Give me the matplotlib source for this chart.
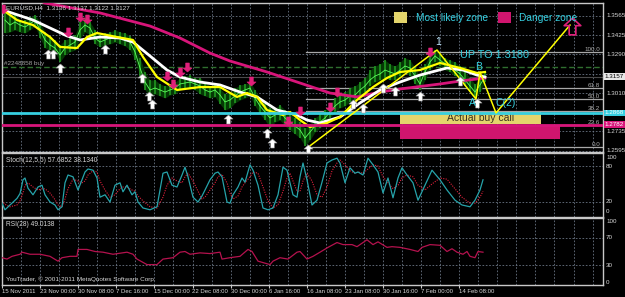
import matplotlib
matplotlib.use('Agg')
import matplotlib.pyplot as plt
import numpy as np
from matplotlib.path import Path
from matplotlib.patches import Rectangle

plt.rcParams['font.family'] = ['Liberation Sans', 'DejaVu Sans']

# ---- EURUSD H4 price bars (chart column, price) ----
bar_x = list(range(5, 486, 5))
close = [1.3535, 1.3499, 1.3521, 1.3499, 1.3485, 1.3507, 1.3535, 1.3464, 1.3392, 1.3356,
         1.3334, 1.3284, 1.3334, 1.3356, 1.3377, 1.3464, 1.3499, 1.3478, 1.3406, 1.3377,
         1.3392, 1.3406, 1.3421, 1.3406, 1.3392, 1.3377, 1.3306, 1.3191, 1.3090, 1.3033,
         1.3047, 1.3033, 1.3018, 1.3033, 1.3047, 1.3076, 1.3083, 1.3090, 1.3076, 1.3062,
         1.3033, 1.3018, 1.3033, 1.2997, 1.2947, 1.2961, 1.2990, 1.3018, 1.3033, 1.3047,
         1.2975, 1.2918, 1.2875, 1.2832, 1.2853, 1.2875, 1.2832, 1.2803, 1.2774, 1.2746,
         1.2688, 1.2731, 1.2774, 1.2803, 1.2832, 1.2875, 1.2918, 1.2947, 1.2961, 1.2990,
         1.2997, 1.3033, 1.3062, 1.3105, 1.3133, 1.3148, 1.3176, 1.3162, 1.3148, 1.3176,
         1.3205, 1.3191, 1.3133, 1.3076, 1.3162, 1.3234, 1.3277, 1.3248, 1.3219, 1.3205,
         1.3176, 1.3148, 1.3105, 1.3062, 1.3018, 1.3069, 1.3126]
high = [1.3593, 1.3571, 1.3578, 1.3535, 1.3535, 1.3557, 1.3571, 1.3521, 1.3449, 1.3406,
        1.3392, 1.3356, 1.3392, 1.3406, 1.3428, 1.3521, 1.3550, 1.3521, 1.3464, 1.3428,
        1.3442, 1.3449, 1.3464, 1.3449, 1.3442, 1.3421, 1.3363, 1.3263, 1.3162, 1.3105,
        1.3105, 1.3076, 1.3062, 1.3076, 1.3090, 1.3119, 1.3133, 1.3140, 1.3119, 1.3119,
        1.3090, 1.3062, 1.3076, 1.3047, 1.3004, 1.3018, 1.3047, 1.3069, 1.3076, 1.3090,
        1.3033, 1.2975, 1.2932, 1.2904, 1.2904, 1.2925, 1.2889, 1.2860, 1.2832, 1.2803,
        1.2760, 1.2789, 1.2832, 1.2860, 1.2889, 1.2932, 1.2975, 1.3004, 1.3018, 1.3047,
        1.3062, 1.3090, 1.3119, 1.3176, 1.3205, 1.3219, 1.3248, 1.3219, 1.3205, 1.3234,
        1.3263, 1.3248, 1.3191, 1.3133, 1.3219, 1.3291, 1.3320, 1.3291, 1.3263, 1.3248,
        1.3234, 1.3205, 1.3162, 1.3119, 1.3076, 1.3133, 1.3162]
low = [1.3442, 1.3449, 1.3464, 1.3449, 1.3442, 1.3464, 1.3492, 1.3406, 1.3334, 1.3320,
       1.3306, 1.3234, 1.3284, 1.3306, 1.3320, 1.3406, 1.3449, 1.3428, 1.3363, 1.3342,
       1.3356, 1.3363, 1.3377, 1.3363, 1.3349, 1.3320, 1.3248, 1.3133, 1.3033, 1.2983,
       1.3004, 1.2990, 1.2975, 1.2997, 1.3004, 1.3033, 1.3047, 1.3047, 1.3033, 1.3004,
       1.2990, 1.2975, 1.2983, 1.2932, 1.2889, 1.2904, 1.2940, 1.2961, 1.2975, 1.2990,
       1.2918, 1.2860, 1.2817, 1.2760, 1.2803, 1.2817, 1.2774, 1.2746, 1.2717, 1.2688,
       1.2631, 1.2674, 1.2731, 1.2760, 1.2789, 1.2832, 1.2875, 1.2904, 1.2918, 1.2947,
       1.2961, 1.2990, 1.3018, 1.3062, 1.3090, 1.3105, 1.3119, 1.3105, 1.3105, 1.3133,
       1.3162, 1.3133, 1.3076, 1.3033, 1.3105, 1.3176, 1.3234, 1.3205, 1.3176, 1.3162,
       1.3133, 1.3105, 1.3062, 1.3018, 1.2975, 1.3018, 1.3090]

# moving averages
ma_slow_x = [35, 45, 100, 150, 180, 210, 230, 267, 300, 330, 357, 380, 400, 440, 460, 485]
ma_slow = [1.3693, 1.3657, 1.3586, 1.3492, 1.3406, 1.3298, 1.3241, 1.3162, 1.3083, 1.3011,
           1.2983, 1.3018, 1.3040, 1.3076, 1.3097, 1.3119]
ma_mid_x = [3, 33, 67, 80, 100, 120, 133, 150, 167, 180, 200, 220, 240, 257, 277, 297, 307,
            320, 340, 360, 380, 400, 420, 447, 463, 477, 485]
ma_mid = [1.3607, 1.3535, 1.3421, 1.3392, 1.3413, 1.3406, 1.3377, 1.3277, 1.3176, 1.3126,
          1.3090, 1.3069, 1.3018, 1.2983, 1.2889, 1.2853, 1.2817, 1.2796, 1.2839, 1.2940,
          1.3033, 1.3090, 1.3140, 1.3191, 1.3176, 1.3140, 1.3126]
ma_fast_x = [3, 17, 33, 50, 60, 77, 87, 97, 117, 133, 143, 157, 177, 200, 220, 237, 247, 257,
             267, 283, 290, 300, 310, 327, 340, 357, 373, 387, 400, 420, 440, 460, 477, 485]
ma_fast = [1.3607, 1.3535, 1.3499, 1.3413, 1.3342, 1.3334, 1.3413, 1.3442, 1.3413, 1.3392,
           1.3270, 1.3126, 1.3033, 1.3054, 1.3054, 1.2983, 1.3011, 1.2983, 1.2889, 1.2853,
           1.2875, 1.2817, 1.2767, 1.2796, 1.2839, 1.2961, 1.3054, 1.3119, 1.3162, 1.3176,
           1.3227, 1.3191, 1.3155, 1.3162]

# wave drawing 0 -> 1 -> A -> B -> C(2) -> target
wave_x = [307, 437, 476, 480, 496, 570]
wave_y = [1.2616, 1.3320, 1.2968, 1.3162, 1.2868, 1.3499]

# signal arrows
buy_x = [48, 53, 60, 105, 142, 149, 152, 228, 267, 272, 308, 353, 363, 383, 395, 420, 460, 477]
buy_y = [1.3290, 1.3290, 1.3190, 1.3326, 1.3118, 1.2990, 1.2932, 1.2825, 1.2724, 1.2652,
         1.2608, 1.2932, 1.2904, 1.3046, 1.3026, 1.2990, 1.3098, 1.2940]
sell_x = [3, 68, 80, 87, 167, 173, 180, 187, 251, 288, 300, 330, 337, 430]
sell_y = [1.3614, 1.3449, 1.3557, 1.3542, 1.3133, 1.3076, 1.3162, 1.3198, 1.3097, 1.2810,
          1.2882, 1.2911, 1.3018, 1.3305]

# levels
cyan_level = 1.2868
danger_level = 1.2782
order_level = 1.3198
bid_level = 1.3127
fib_lo, fib_hi = 1.2624, 1.3306
fib_levels = [100.0, 61.8, 50.0, 38.2, 23.6, 0.0]
price_labels = [1.3565, 1.3425, 1.3290, 1.3010, 1.2735, 1.2595]
grid_prices = [1.3565, 1.3425, 1.3290, 1.3150, 1.3010, 1.2870, 1.2735, 1.2595]

# Stochastic(12,5,5)
st_x = [2, 5, 10, 17, 20, 23, 25, 28, 33, 38, 42, 45, 50, 55, 58, 62, 65, 68, 73, 78, 82, 85,
        88, 93, 97, 100, 105, 110, 115, 120, 123, 127, 132, 135, 138, 143, 150, 157, 163, 167,
        172, 177, 182, 185, 188, 193, 198, 202, 205, 210, 215, 218, 222, 227, 230, 233, 238,
        242, 245, 250, 253, 258, 263, 268, 273, 278, 283, 287, 290, 293, 297, 300, 303, 307,
        312, 317, 322, 327, 332, 337, 340, 345, 350, 355, 358, 363, 368, 373, 378, 383, 388,
        393, 398, 402, 407, 413, 418, 425, 432, 440, 447, 455, 462, 470, 475, 480, 483]
st_main = [18, 7, 15, 26, 34, 57, 60, 43, 32, 45, 48, 32, 20, 15, 7, 12, 52, 65, 62, 40, 57, 70,
           75, 73, 60, 28, 32, 20, 48, 52, 37, 48, 32, 37, 20, 10, 7, 12, 68, 70, 48, 45, 65,
           78, 62, 28, 20, 30, 40, 57, 68, 70, 62, 20, 18, 32, 45, 60, 53, 82, 73, 48, 10, 7,
           10, 32, 78, 73, 52, 32, 28, 62, 85, 57, 15, 23, 53, 85, 90, 93, 85, 52, 77, 68, 70,
           65, 93, 82, 70, 35, 60, 27, 60, 77, 65, 52, 23, 48, 73, 57, 40, 23, 15, 12, 23, 40, 57]
st_signal = [22, 16, 12, 15, 22, 35, 48, 52, 45, 40, 42, 42, 35, 24, 15, 12, 25, 42, 58, 55,
             52, 55, 65, 72, 70, 55, 40, 28, 32, 42, 45, 45, 40, 38, 30, 22, 12, 10, 28, 48,
             60, 55, 52, 62, 68, 55, 38, 25, 28, 40, 52, 62, 66, 52, 35, 25, 30, 45, 52, 62,
             70, 68, 45, 22, 10, 15, 38, 60, 68, 55, 38, 38, 55, 68, 55, 32, 28, 45, 72, 85,
             90, 82, 72, 68, 70, 68, 75, 82, 80, 62, 52, 42, 48, 60, 65, 62, 48, 40, 50, 60,
             58, 42, 28, 18, 18, 28, 38]

# RSI(28)
rsi_x = [2, 7, 12, 20, 22, 30, 40, 50, 58, 62, 70, 77, 78, 87, 95, 103, 113, 127, 133, 137, 147,
         157, 163, 173, 180, 185, 190, 200, 210, 220, 222, 230, 240, 248, 252, 258, 270, 273,
         280, 288, 297, 300, 307, 313, 320, 328, 337, 343, 352, 357, 363, 367, 373, 378, 387,
         392, 400, 410, 418, 422, 430, 440, 447, 452, 457, 463, 467, 470, 475, 478, 483]
rsi = [41, 39, 43, 46, 49, 46, 46, 43, 36, 41, 43, 43, 53, 53, 50, 49, 46, 49, 46, 39, 31,
       31, 39, 41, 49, 50, 46, 48, 47, 49, 39, 41, 43, 53, 50, 36, 31, 36, 41, 39, 49, 50, 39,
       43, 49, 56, 63, 60, 60, 57, 63, 67, 60, 64, 56, 57, 56, 53, 50, 56, 60, 59, 50, 54, 49,
       46, 50, 43, 41, 50, 49]

date_labels = ['15 Nov 2011', '23 Nov 00:00', '30 Nov 08:00', '7 Dec 16:00', '15 Dec 00:00',
               '22 Dec 08:00', '30 Dec 00:00', '6 Jan 16:00', '16 Jan 08:00', '23 Jan 08:00',
               '30 Jan 16:00', '7 Feb 00:00', '14 Feb 08:00']

BG = 'black'
FRAME = '#c8c8c8'
GRID = '#6a7584'
TXT = '#d8d8d8'
CYAN = '#36cfe0'
MAG = '#d8157a'

fig = plt.figure(figsize=(6.25, 2.97), dpi=100)
fig.patch.set_facecolor(BG)
ax = fig.add_axes([0.0032, 0.4882, 0.9616, 0.5017])
axs = fig.add_axes([0.0032, 0.2694, 0.9616, 0.2155])
axr = fig.add_axes([0.0032, 0.0404, 0.9616, 0.2256])

grid_x = 2 + 19.05 * np.arange(32)
for a in (ax, axs, axr):
    a.set_facecolor(BG)
    a.set_xlim(2, 603)
    for s in a.spines.values():
        s.set_color(FRAME); s.set_linewidth(1)
    a.tick_params(left=False, labelleft=False, bottom=False, labelbottom=False)
    for gx in grid_x[1:]:
        a.axvline(gx, color=GRID, lw=0.6, ls=(0, (2, 2)), zorder=0)

# ---------- main chart ----------
ax.set_ylim(1.25876, 1.36574)
for gp in grid_prices:
    ax.axhline(gp, color=GRID, lw=0.6, ls=(0, (2, 2)), zorder=0)

up = Path([(0, 1), (1, 0.1), (0.4, 0.1), (0.4, -1), (-0.4, -1), (-0.4, 0.1), (-1, 0.1), (0, 1)],
          [1, 2, 2, 2, 2, 2, 2, 79])
down = Path([(0, -1), (1, -0.1), (0.4, -0.1), (0.4, 1), (-0.4, 1), (-0.4, -0.1), (-1, -0.1), (0, -1)],
            [1, 2, 2, 2, 2, 2, 2, 79])

ax.axhline(order_level, color='#2f6f2f', lw=1, ls=(0, (4, 2)), zorder=1)
ax.axhline(bid_level, color='#4a4a4a', lw=0.8, zorder=1)
for lv in fib_levels:
    p = fib_lo + lv / 100 * (fib_hi - fib_lo)
    ax.plot([306, 603], [p, p], color='#a8a8a8', lw=0.9, zorder=2)
    ax.text(600, p, f'{lv:.1f}', color='#b0b0b0', fontsize=4.5, ha='right', va='bottom', zorder=6)

ax.fill_between(bar_x, low, high, color='#053805', lw=0, zorder=2)
ax.vlines(bar_x, low, high, color='#22a022', lw=1.1, zorder=3)
ax.plot(bar_x, close, color='#5cff5c', lw=0.6, zorder=3)

ax.plot(ma_slow_x, ma_slow, color=MAG, lw=2, zorder=4)
ax.plot(ma_mid_x, ma_mid, color='white', lw=2, zorder=4)
ax.plot(ma_fast_x, ma_fast, color='#ffff00', lw=1.6, zorder=4)

ax.add_patch(Rectangle((400, 1.2789), 141, 1.2875 - 1.2789, facecolor='#e4d56c', edgecolor='none', zorder=5))
ax.add_patch(Rectangle((400, 1.2681), 160, 1.2782 - 1.2681, facecolor='#d0156e', edgecolor='none', zorder=5))
ax.text(481, 1.2832, 'Actual buy call', color='#3b3020', fontsize=7.5, ha='center', va='center', zorder=6)
ax.axhline(cyan_level, color=CYAN, lw=2, zorder=6)
ax.axhline(danger_level, color=MAG, lw=2, zorder=6)

ax.plot(wave_x, wave_y, color='#ffff00', lw=1.1, zorder=7)
ax.plot(buy_x, buy_y, ls='none', marker=up, ms=6.5, mfc='white', mec='#909090', mew=0.4, zorder=8)
ax.plot(sell_x, sell_y, ls='none', marker=down, ms=6.5, mfc='#e0207a', mec='#e0207a', mew=0.4, zorder=8)
ax.plot([572], [1.3489], ls='none', marker=up, ms=12, mfc='none', mec='#e0207a', mew=1.2, zorder=8)

ax.text(438, 1.3340, '1', color='#bfe8ff', fontsize=7.5, ha='center', va='bottom', zorder=9)
ax.text(460, 1.3284, 'UP TO 1.3180', color=CYAN, fontsize=7.8, ha='left', va='center', zorder=9)
ax.text(479, 1.3198, 'B', color=CYAN, fontsize=7.5, ha='center', va='center', zorder=9)
ax.text(472, 1.2940, 'A', color=CYAN, fontsize=7.5, ha='center', va='center', zorder=9)
ax.text(495, 1.2940, 'C(2)', color=CYAN, fontsize=7.5, ha='left', va='center', zorder=9)

ax.add_patch(Rectangle((394, 1.3514), 13, 1.3593 - 1.3514, facecolor='#e4d56c', edgecolor='none', zorder=9))
ax.add_patch(Rectangle((498, 1.3514), 13, 1.3593 - 1.3514, facecolor='#d0156e', edgecolor='none', zorder=9))
ax.text(416, 1.3553, 'Most likely zone', color=CYAN, fontsize=7.3, ha='left', va='center', zorder=9)
ax.text(519, 1.3553, 'Danger zone', color=CYAN, fontsize=7.3, ha='left', va='center', zorder=9)

ax.text(0.006, 0.985, 'EURUSD,H4  1.3136 1.3137 1.3122 1.3127', transform=ax.transAxes,
        color=TXT, fontsize=4.6, ha='left', va='top', zorder=10)
ax.text(4, order_level + 0.0004, '#2248858 buy', color='#a0a0a0', fontsize=4.6, ha='left', va='bottom', zorder=10)

ytr = ax.get_yaxis_transform()
for pl in price_labels:
    ax.text(1.005, pl, f'{pl:.4f}', transform=ytr, color=TXT, fontsize=4.5, ha='left', va='center', clip_on=False)
ax.text(1.003, bid_level, '1.3157', transform=ytr, color='black', fontsize=4.5, ha='left', va='center',
        bbox=dict(boxstyle='square,pad=0.15', fc='#e8e8e8', ec='none'), clip_on=False)
ax.text(1.003, cyan_level, '1.2868', transform=ytr, color='white', fontsize=4.5, ha='left', va='center',
        bbox=dict(boxstyle='square,pad=0.15', fc=CYAN, ec='none'), clip_on=False)
ax.text(1.003, danger_level, '1.2782', transform=ytr, color='white', fontsize=4.5, ha='left', va='center',
        bbox=dict(boxstyle='square,pad=0.15', fc=MAG, ec='none'), clip_on=False)

# ---------- stochastic ----------
axs.set_ylim(-5, 101.7)
for lv in (80, 20):
    axs.axhline(lv, color=GRID, lw=0.6, ls=(0, (2, 2)), zorder=0)
axs.plot(st_x, st_signal, color='#e0203c', lw=0.8, ls=(0, (1, 1.2)), zorder=2)
axs.plot(st_x, st_main, color='#26a3aa', lw=0.9, zorder=3)
axs.text(0.006, 0.93, 'Stoch(12,5,5) 57.6852 38.1340', transform=axs.transAxes, color=TXT,
         fontsize=4.8, ha='left', va='top')
str_ = axs.get_yaxis_transform()
for v, s in [(94, '100'), (80, '80'), (20, '20'), (4, '0')]:
    axs.text(1.005, v, s, transform=str_, color=TXT, fontsize=4.5, ha='left', va='center', clip_on=False)

# ---------- RSI ----------
axr.set_ylim(1.4, 98.6)
for lv in (70, 30):
    axr.axhline(lv, color=GRID, lw=0.6, ls=(0, (2, 2)), zorder=0)
axr.plot(rsi_x, rsi, color='#b5124e', lw=0.9, zorder=3)
axr.text(0.006, 0.95, 'RSI(28) 49.0138', transform=axr.transAxes, color=TXT,
         fontsize=4.8, ha='left', va='top')
axr.text(0.006, 0.04, 'YouTrader, \u00a9 2001-2011 MetaQuotes Software Corp.', transform=axr.transAxes,
         color=TXT, fontsize=4.6, ha='left', va='bottom')
rtr = axr.get_yaxis_transform()
for v, s in [(94, '100'), (70, '70'), (30, '30'), (5, '0')]:
    axr.text(1.005, v, s, transform=rtr, color=TXT, fontsize=4.5, ha='left', va='center', clip_on=False)

axr.tick_params(bottom=True, labelbottom=True, direction='out', length=2.5, color=FRAME,
                labelsize=4.3, labelcolor=TXT, pad=0.5)
axr.set_xticks(grid_x[::2][:len(date_labels)])
axr.set_xticklabels(date_labels)
for lab in axr.get_xticklabels():
    lab.set_ha('left')

fig.savefig('out.png', dpi=100, facecolor=BG)
